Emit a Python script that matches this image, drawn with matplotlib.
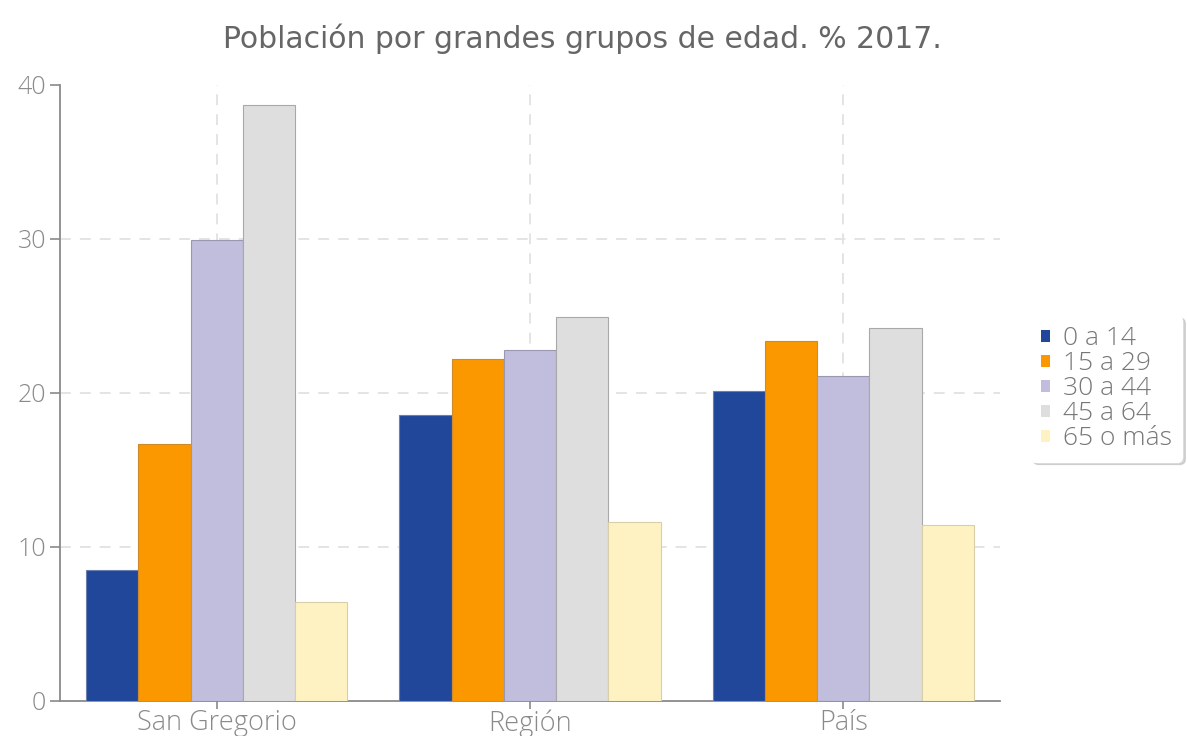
import matplotlib
matplotlib.use("Agg")
import matplotlib.pyplot as plt
import numpy as np
from matplotlib.patches import Patch

categories = ["San Gregorio", "Región", "País"]
series_names = ["0 a 14", "15 a 29", "30 a 44", "45 a 64", "65 o más"]
v_0_14 = [8.5, 18.6, 20.1]
v_15_29 = [16.7, 22.2, 23.4]
v_30_44 = [29.9, 22.8, 21.1]
v_45_64 = [38.7, 24.9, 24.2]
v_65 = [6.4, 11.6, 11.4]
series_values = [v_0_14, v_15_29, v_30_44, v_45_64, v_65]
colors = ["#21479A", "#FB9800", "#C1BDDC", "#DEDEDE", "#FFF2C2"]
edges = ["#6a7fb0", "#d08a2a", "#9a97b0", "#a8a8a8", "#d8cfa8"]
yticks = [0, 10, 20, 30, 40]

fig = plt.figure(figsize=(11.87, 7.36), dpi=100)
ax = fig.add_axes([0.0505, 0.0476, 0.792, 0.837])

x = np.arange(len(categories))
group = 0.833
bw = group / len(series_names)
for i, (vals, c, ec) in enumerate(zip(series_values, colors, edges)):
    off = -group / 2 + bw * (i + 0.5)
    ax.bar(x + off, vals, width=bw, color=c, edgecolor=ec, linewidth=0.8, zorder=3)

ax.set_xlim(-0.5, 2.5)
ax.set_ylim(0, 40)
ax.set_yticks(yticks)
ax.set_xticks(x)
ax.set_xticklabels(categories)

for y in [10, 20, 30]:
    ax.axhline(y, color="#e2e2e2", linestyle=(0, (6, 5)), linewidth=1.3, zorder=1)
for xi in x:
    ax.axvline(xi, color="#e2e2e2", linestyle=(0, (6, 5)), linewidth=1.3, zorder=1)

for s in ["top", "right"]:
    ax.spines[s].set_visible(False)
ax.spines["left"].set_color("#8a8a8a")
ax.spines["bottom"].set_color("#8a8a8a")
ax.spines["left"].set_linewidth(1.3)
ax.spines["bottom"].set_linewidth(1.3)

ax.tick_params(axis="y", colors="#8a8a8a", labelcolor="#8a8a8a", length=7, width=1.2, labelsize=18, pad=3)
ax.tick_params(axis="x", colors="#8a8a8a", labelcolor="#8a8a8a", length=6, width=1.2, labelsize=19.5, pad=0)
for lbl in ax.get_xticklabels() + ax.get_yticklabels():
    lbl.set_family("Open Sans")
    lbl.set_fontweight("light")

fig.text(0.491, 0.947, "Población por grandes grupos de edad. % 2017.", ha="center", va="center",
         fontsize=21.5, color="#666666", family="DejaVu Sans")

handles = [Patch(facecolor=c, edgecolor="none") for c in colors]
leg = fig.legend(handles, series_names, loc="center left", bbox_to_anchor=(0.857, 0.472),
                 frameon=True, fancybox=True, shadow={"color": "#bbbbbb", "alpha": 0.6},
                 handlelength=0.33, handleheight=0.33, handletextpad=0.5, labelspacing=0.0,
                 borderpad=0.4, prop={"family": "Open Sans", "size": 19, "weight": "light"})
leg.get_frame().set_edgecolor("#ffffff")
for t in leg.get_texts():
    t.set_color("#777777")

fig.savefig("out.png", dpi=100)
